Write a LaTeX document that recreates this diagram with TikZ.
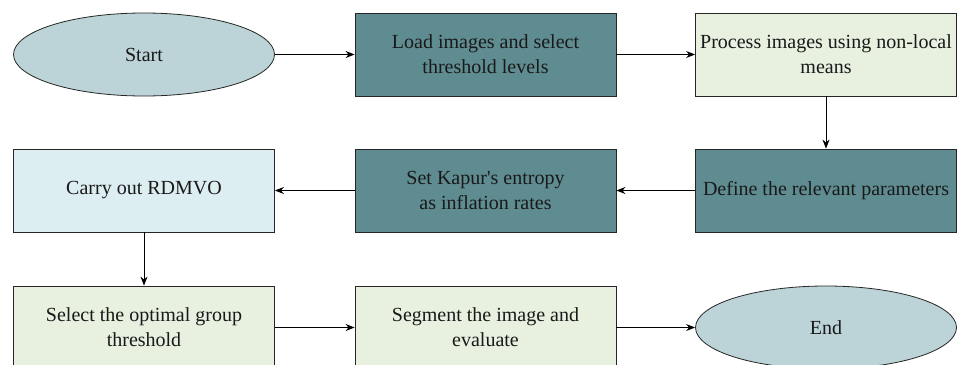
\documentclass[tikz,border=0pt]{standalone}
\usepackage{xcolor}
\usepackage{fontspec}
\setmainfont{Liberation Serif}
\usepackage{tikz}
\usetikzlibrary{shapes.geometric,arrows.meta}
\definecolor{ovalblue}{RGB}{188,212,216}
\definecolor{darkteal}{RGB}{95,140,145}
\definecolor{palegreen}{RGB}{232,240,223}
\definecolor{paleblue}{RGB}{221,238,243}

\begin{document}
\begin{tikzpicture}[x=1pt,y=-1pt,
    box/.style={draw=black!85, line width=0.8pt, minimum width=261pt, minimum height=83pt,
        inner sep=0pt, align=center, text=black!90, font=\fontsize{20}{25}\selectfont},
    oval/.style={box, ellipse, fill=ovalblue},
    flow/.style={-{Stealth[length=9pt,width=7pt]}, line width=0.9pt}]
    \useasboundingbox (0,0) rectangle (960,364);
    % first row
    \node [oval] (start) at (144,54.5) {Start};
    \node [box, fill=darkteal] (load) at (485.5,54.5) {Load images and select\\threshold levels};
    \node [box, fill=palegreen] (process) at (826,54.5) {Process images using non-local\\means};
    % second row
    \node [box, fill=darkteal] (define) at (826,190.5) {Define the relevant parameters};
    \node [box, fill=darkteal] (kapur) at (485.5,190.5) {Set Kapur\textquotesingle s entropy\\as inflation rates};
    \node [box, fill=paleblue] (rdmvo) at (144,190.5) {Carry out RDMVO};
    % third row
    \node [box, fill=palegreen] (optimal) at (144,327.5) {Select the optimal group\\threshold};
    \node [box, fill=palegreen] (segment) at (485.5,327.5) {Segment the image and\\evaluate};
    \node [oval] (end) at (826,327.5) {End};
    \draw [flow] (start) -- (load);
    \draw [flow] (load) -- (process);
    \draw [flow] (process) -- (define);
    \draw [flow] (define) -- (kapur);
    \draw [flow] (kapur) -- (rdmvo);
    \draw [flow] (rdmvo) -- (optimal);
    \draw [flow] (optimal) -- (segment);
    \draw [flow] (segment) -- (end);
\end{tikzpicture}
\end{document}
